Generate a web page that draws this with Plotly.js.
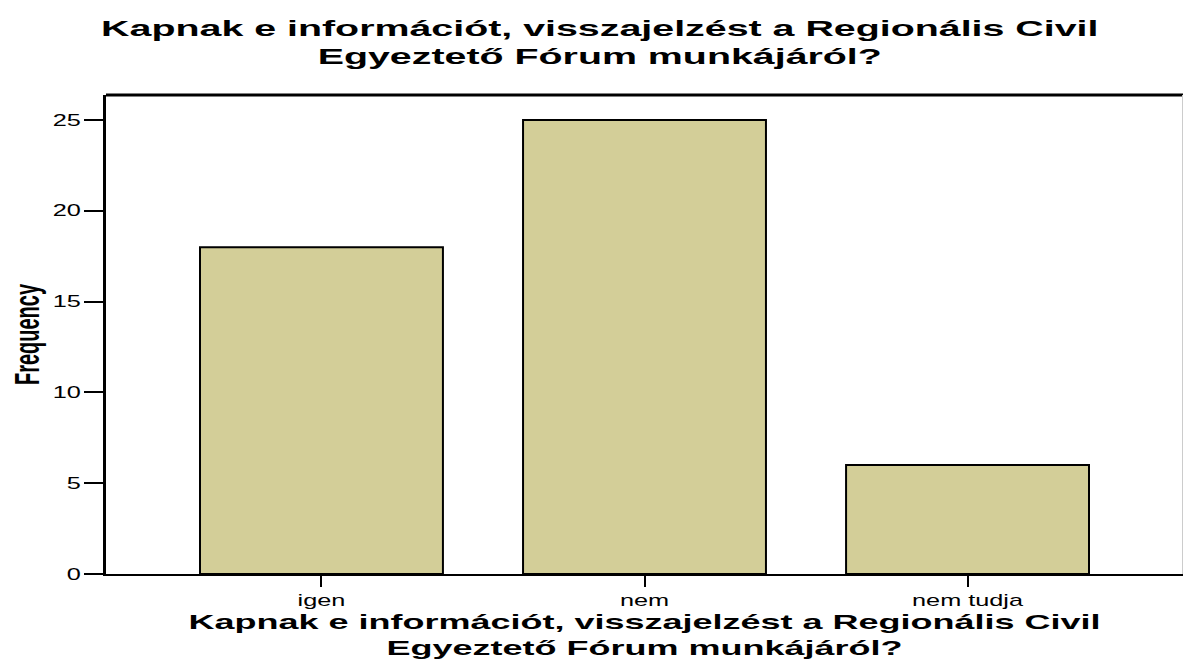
<!DOCTYPE html>
<html>
<head>
<meta charset="utf-8">
<script src="https://cdn.plot.ly/plotly-3.0.1.min.js"></script>
<style>html,body{margin:0;padding:0;background:#fff}#chart{width:1183px;height:660px}</style>
</head>
<body>
<div id="chart"></div>
<script>
const categories = ["igen", "nem", "nem tudja"];
const frequency = [18, 25, 6];
const yTicks = [0, 5, 10, 15, 20, 25];
const titleText = "Kapnak e információt, visszajelzést a Regionális Civil<br>Egyeztető Fórum munkájáról?";
const yTitleText = "Frequency";

const FONT = "Liberation Sans, Arial, Helvetica, sans-serif";

const trace = {
  type: "bar",
  x: categories,
  y: frequency,
  width: 0.752,
  marker: {color: "#d3ce98", line: {color: "#000", width: 2}},
  hoverinfo: "x+y"
};

const layout = {
  width: 1183, height: 660,
  margin: {l: 106, r: 0, t: 95, b: 86},
  paper_bgcolor: "#fff", plot_bgcolor: "#fff",
  showlegend: false,
  title: {
    text: titleText,
    font: {family: FONT, size: 22, color: "#000", weight: "bold"},
    x: 0.507, xref: "container", xanchor: "center",
    y: 0.946, yref: "container", yanchor: "top"
  },
  xaxis: {
    range: [-0.667, 2.667],
    showline: true, linecolor: "#000", linewidth: 2,
    ticks: "outside", ticklen: 11, tickwidth: 2, tickcolor: "#000",
    tickfont: {family: FONT, size: 16, color: "#000"},
    title: {text: titleText, font: {family: FONT, size: 20, color: "#000", weight: "bold"}, standoff: 7},
    showgrid: false, zeroline: false, fixedrange: true
  },
  yaxis: {
    range: [0, 26.38],
    tickvals: yTicks,
    showline: true, linecolor: "#000", linewidth: 3,
    ticks: "outside", ticklen: 19, tickwidth: 2, tickcolor: "#000",
    tickfont: {family: FONT, size: 16, color: "#000"},
    title: {text: yTitleText, font: {family: FONT, size: 20, color: "#000", weight: "bold"}, standoff: 24},
    showgrid: false, zeroline: false, fixedrange: true
  },
  shapes: [
    {type: "line", xref: "paper", yref: "paper", x0: 0, x1: 1, y0: 1, y1: 1, line: {color: "#000", width: 3}},
    {type: "line", xref: "paper", yref: "paper", x0: 1, x1: 1, y0: 0, y1: 1, line: {color: "#cccccc", width: 2}}
  ]
};

// The reference's text is horizontally stretched; widen the drawn text to match.
function stretch(el, sx, anchor) {
  const svg = el.ownerSVGElement;
  const r = el.getBoundingClientRect();
  const px = anchor === "right" ? r.right : r.left + r.width / 2;
  const pt = svg.createSVGPoint();
  pt.x = px; pt.y = r.top + r.height / 2;
  const c = pt.matrixTransform(el.parentNode.getScreenCTM().inverse());
  const old = el.getAttribute("transform") || "";
  el.setAttribute("transform",
    "translate(" + c.x + "," + c.y + ") scale(" + sx + ",1) translate(" + (-c.x) + "," + (-c.y) + ") " + old);
}

Plotly.newPlot("chart", [trace], layout, {displayModeBar: false, staticPlot: true}).then(function (gd) {
  gd.querySelectorAll("text.gtitle").forEach(function (t) { stretch(t, 1.79, "center"); });
  gd.querySelectorAll("text.xtitle").forEach(function (t) { stretch(t, 1.8, "center"); });
  gd.querySelectorAll("text.ytitle").forEach(function (t) { stretch(t, 1.75, "center"); });
  gd.querySelectorAll(".xtick text").forEach(function (t) { stretch(t, 1.58, "center"); });
  gd.querySelectorAll(".ytick text").forEach(function (t) { stretch(t, 1.58, "right"); });
});
</script>
</body>
</html>
